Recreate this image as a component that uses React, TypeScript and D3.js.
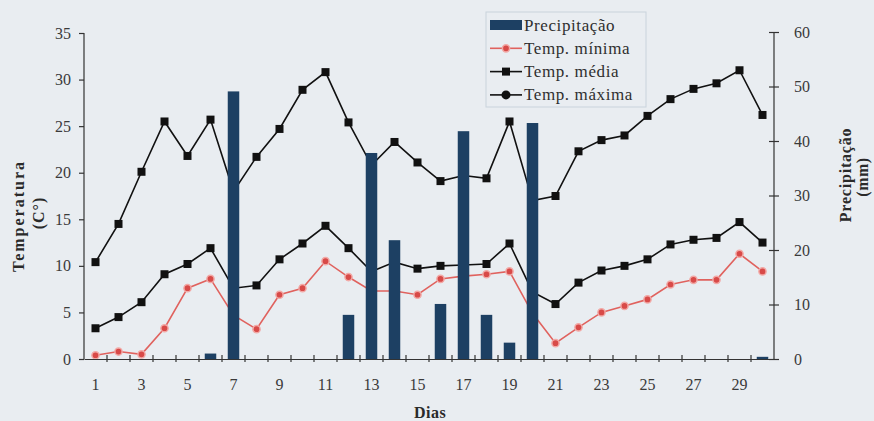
import { useRef, useEffect } from 'react';
import * as d3 from 'd3';

const days = [1, 2, 3, 4, 5, 6, 7, 8, 9, 10, 11, 12, 13, 14, 15, 16, 17, 18, 19, 20, 21, 22, 23, 24, 25, 26, 27, 28, 29, 30];
const dayLabels = [1, 3, 5, 7, 9, 11, 13, 15, 17, 19, 21, 23, 25, 27, 29];

// °C
const tempMin = [0.4, 0.8, 0.5, 3.3, 7.6, 8.6, 4.7, 3.2, 6.9, 7.6, 10.5, 8.8, 7.3, 7.3, 6.9, 8.6, 8.9, 9.1, 9.4, 4.9, 1.7, 3.4, 5.0, 5.7, 6.4, 8.0, 8.5, 8.5, 11.3, 9.4];
const tempMed = [3.3, 4.5, 6.1, 9.1, 10.2, 11.9, 7.6, 7.9, 10.7, 12.4, 14.3, 11.9, 9.4, 10.4, 9.7, 10.0, 10.1, 10.2, 12.4, 7.2, 5.9, 8.2, 9.5, 10.0, 10.7, 12.3, 12.8, 13.0, 14.7, 12.5];
const tempMax = [10.4, 14.5, 20.1, 25.5, 21.8, 25.7, 18.0, 21.7, 24.7, 28.9, 30.8, 25.4, 20.8, 23.3, 21.1, 19.1, 19.7, 19.4, 25.5, 17.0, 17.5, 22.3, 23.5, 24.0, 26.1, 27.9, 29.0, 29.6, 31.0, 26.2];
// mm
const precip = [0, 0, 0, 0, 0, 1.0, 49.1, 0, 0, 0, 0, 8.1, 37.8, 21.8, 0, 10.1, 41.8, 8.1, 3.0, 43.3, 0, 0, 0, 0, 0, 0, 0, 0, 0, 0.4];

const tempTicks = [0, 5, 10, 15, 20, 25, 30, 35];
const precipTicks = [0, 10, 20, 30, 40, 50, 60];

const W = 874;
const H = 421;
const BG = '#e9edf1';
const AXIS = '#333';
const BAR = '#1d4063';
const RED = '#e0625e';
const FONT = "'Liberation Serif', 'DejaVu Serif', serif";

function ClimateChart() {
  const ref = useRef<SVGSVGElement>(null);

  useEffect(() => {
    const svg = d3.select(ref.current);
    svg.selectAll('*').remove();

    const left = 84, right = 774, bottom = 359;

    const x = d3.scaleBand<number>().domain(days).range([left, right]);
    const cx = (d: number) => (x(d) as number) + x.bandwidth() / 2;
    const yT = d3.scaleLinear().domain([0, 35]).range([bottom, 33]);
    const yP = d3.scaleLinear().domain([0, 60]).range([bottom, 32]);

    svg.append('rect').attr('width', W).attr('height', H).attr('fill', BG);

    // temperature lines
    const series = [
      { vals: tempMax, color: '#111', marker: 'square' },
      { vals: tempMed, color: '#111', marker: 'square' },
      { vals: tempMin, color: RED, marker: 'circle' },
    ];
    series.forEach(s => {
      const line = d3.line<number>().x((_, i) => cx(days[i])).y(v => yT(v));
      svg.append('path')
        .attr('d', line(s.vals))
        .attr('fill', 'none')
        .attr('stroke', s.color)
        .attr('stroke-width', 1.6);
      const g = svg.append('g');
      if (s.marker === 'square') {
        g.selectAll('rect').data(s.vals).join('rect')
          .attr('x', (_, i) => cx(days[i]) - 4)
          .attr('y', v => yT(v) - 4)
          .attr('width', 8).attr('height', 8)
          .attr('fill', '#111');
      } else {
        g.selectAll('circle').data(s.vals).join('circle')
          .attr('cx', (_, i) => cx(days[i]))
          .attr('cy', v => yT(v))
          .attr('r', 3.6)
          .attr('fill', '#d84a48')
          .attr('stroke', '#f2a9a6')
          .attr('stroke-width', 1.5);
      }
    });

    // precipitation bars (drawn over the lines, as in the original)
    const bw = 11.5;
    svg.append('g').selectAll('rect').data(precip).join('rect')
      .attr('x', (_, i) => cx(days[i]) - bw / 2)
      .attr('y', v => yP(v))
      .attr('width', bw)
      .attr('height', v => bottom - yP(v))
      .attr('fill', BAR);

    // axes
    const axisLeft = d3.axisLeft(yT).tickValues(tempTicks).tickSizeInner(5).tickSizeOuter(0).tickPadding(8);
    const axisRight = d3.axisRight(yP).tickValues(precipTicks).tickSizeInner(5).tickSizeOuter(0).tickPadding(15);
    const axisBottom = d3.axisBottom(x).tickValues([]).tickSizeOuter(0);

    const styleAxis = (g: d3.Selection<SVGGElement, unknown, null, undefined>) => {
      g.selectAll('path, line').attr('stroke', AXIS).attr('stroke-width', 1.2);
      g.selectAll('text').attr('fill', '#3a3a3a').style('font-family', FONT).style('font-size', '16px');
    };

    svg.append('g').attr('transform', `translate(${left},0)`).call(axisLeft).call(styleAxis)
      .select('.domain').attr('d', `M0,${bottom}V33`);
    const gr = svg.append('g').attr('transform', `translate(${right},0)`).call(axisRight).call(styleAxis);
    gr.select('.domain').attr('d', `M0,${bottom}V32`);
    gr.selectAll('.tick line').attr('x1', -5);

    const gb = svg.append('g').attr('transform', `translate(0,${bottom})`).call(axisBottom).call(styleAxis);
    gb.selectAll('.minor').data(days.slice(1)).join('line')
      .attr('class', 'minor')
      .attr('x1', d => x(d) as number).attr('x2', d => x(d) as number)
      .attr('y1', -4).attr('y2', 3)
      .attr('stroke', AXIS).attr('stroke-width', 1.2);
    gb.selectAll('.lbl').data(dayLabels).join('text')
      .attr('class', 'lbl')
      .attr('x', d => cx(d)).attr('y', 31)
      .attr('text-anchor', 'middle')
      .attr('fill', '#3a3a3a')
      .style('font-family', FONT).style('font-size', '16px')
      .text(d => d);

    // axis titles
    const title = (tx: number, ty: number, txt: string, rot: number, spacing: number) =>
      svg.append('text')
        .attr('transform', `translate(${tx},${ty}) rotate(${rot})`)
        .attr('text-anchor', 'middle')
        .attr('fill', '#2a2a2a')
        .style('font-family', FONT).style('font-size', '16px').style('font-weight', 'bold')
        .style('letter-spacing', `${spacing}px`)
        .text(txt);
    title(24, 216, 'Temperatura', -90, 2);
    title(44, 213, '(C°)', -90, 1);
    title(851, 175, 'Precipitação', -90, 0.8);
    title(868, 177, '(mm)', -90, 0.5);
    title(430, 418, 'Dias', 0, 0.5);

    // legend
    const lg = svg.append('g');
    lg.append('rect')
      .attr('x', 486).attr('y', 12).attr('width', 160).attr('height', 95)
      .attr('fill', 'none').attr('stroke', '#c9d3dc').attr('stroke-width', 1);
    const items = ['Precipitação', 'Temp. mínima', 'Temp. média', 'Temp. máxima'];
    items.forEach((name, i) => {
      const ly = 25 + i * 23.3;
      if (i === 0) {
        lg.append('rect').attr('x', 490).attr('y', ly - 5).attr('width', 32).attr('height', 10).attr('fill', BAR);
      } else {
        const c = i === 1 ? RED : '#111';
        lg.append('line').attr('x1', 490).attr('x2', 522).attr('y1', ly).attr('y2', ly)
          .attr('stroke', c).attr('stroke-width', 1.6);
        if (i === 1) {
          lg.append('circle').attr('cx', 506).attr('cy', ly).attr('r', 3.6)
            .attr('fill', '#d84a48').attr('stroke', '#f2a9a6').attr('stroke-width', 1.5);
        } else if (i === 2) {
          lg.append('rect').attr('x', 502).attr('y', ly - 4).attr('width', 8).attr('height', 8).attr('fill', '#111');
        } else {
          lg.append('circle').attr('cx', 506).attr('cy', ly).attr('r', 4.5).attr('fill', '#111');
        }
      }
      lg.append('text')
        .attr('x', 524).attr('y', ly + 5.5)
        .attr('fill', '#2f2f2f')
        .style('font-family', FONT).style('font-size', '17px').style('letter-spacing', '0.6px')
        .text(name);
    });
  }, []);

  return (
    <div style={{ position: 'absolute', left: 0, top: 0 }}>
      <svg ref={ref} width={W} height={H} style={{ display: 'block' }}></svg>
    </div>
  );
}

export default function App() {
  return <ClimateChart />;
}
